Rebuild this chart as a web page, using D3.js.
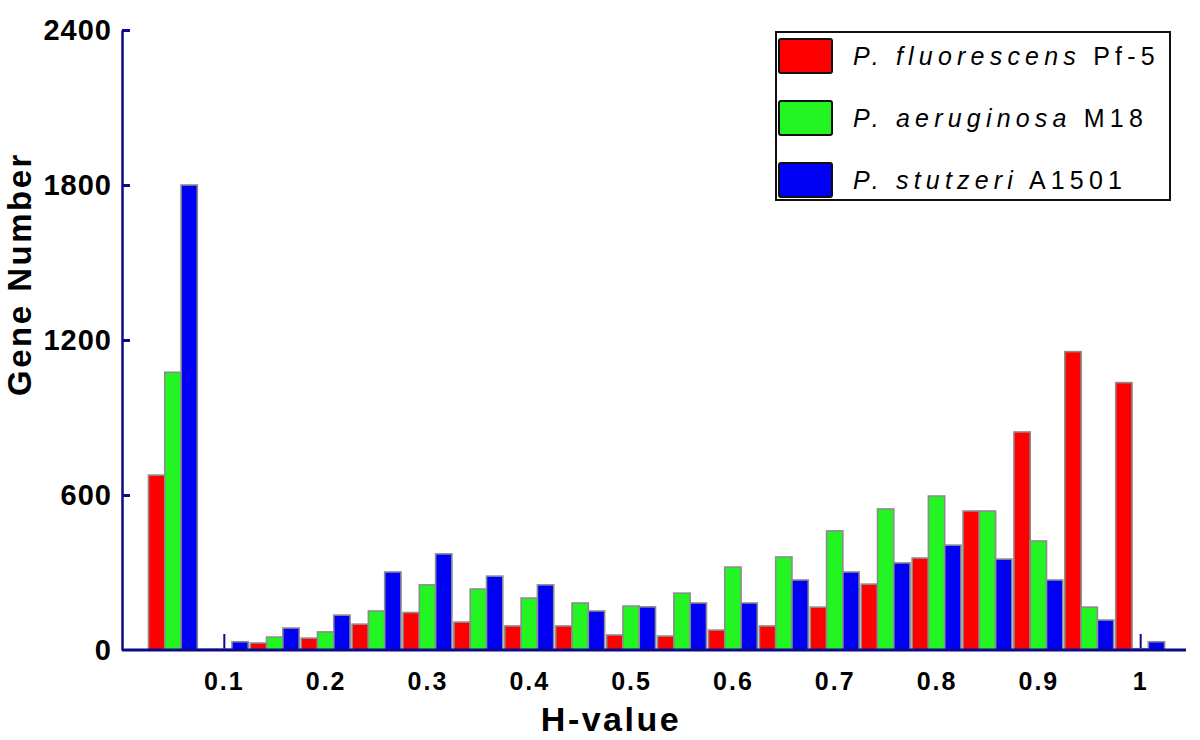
<!DOCTYPE html>
<html>
<head>
<meta charset="utf-8">
<script src="https://cdn.jsdelivr.net/npm/d3@7"></script>
<style>
  body { margin: 0; background: #fff; }
  text { font-family: "Liberation Sans", Arial, sans-serif; }
</style>
</head>
<body>
<div class="holder"></div>
<script>
const wd = 1200
const ht = 740

// bin centres (H-value) and gene counts per genome
const bins = [0.05, 0.1, 0.15, 0.2, 0.25, 0.3, 0.35, 0.4, 0.45, 0.5, 0.55, 0.6, 0.65, 0.7, 0.75, 0.8, 0.85, 0.9, 0.95, 1.0]
const pfluor = [677, 3, 27, 46, 100, 145, 108, 93, 93, 58, 54, 77, 93, 166, 255, 356, 538, 844, 1155, 1035]
const paer = [1075, 3, 50, 70, 151, 252, 236, 201, 182, 170, 220, 321, 360, 461, 546, 596, 538, 422, 166, 5]
const pstut = [1800, 32, 85, 135, 302, 372, 286, 252, 151, 167, 182, 182, 271, 302, 337, 406, 352, 271, 116, 32]

const xTicks = [0.1, 0.2, 0.3, 0.4, 0.5, 0.6, 0.7, 0.8, 0.9, 1]
const yTicks = [0, 600, 1200, 1800, 2400]

const series = [
  {name: "P. fluorescens", strain: "Pf-5", vals: pfluor, col: "#ff0000"},
  {name: "P. aeruginosa", strain: "M18", vals: paer, col: "#22f522"},
  {name: "P. stutzeri", strain: "A1501", vals: pstut, col: "#0000f5"}
]

const svg = d3.select(".holder").append("svg")
.attr("width", wd)
.attr("height", ht)

const x = d3.scaleLinear().domain([0, 1.045]).range([122, 1186])
const y = d3.scaleLinear().domain([0, 2400]).range([650, 30])

const barW = x(0.016) - x(0)
const axisCol = "#0a0a8a"

// x ticks go under the bars (only the gaps show them)
const xAxis = d3.axisBottom(x)
.tickValues(xTicks)
.tickSizeInner(-16)
.tickSizeOuter(0)
.tickPadding(22)
.tickFormat(d => d === 1 ? "1" : d3.format(".1f")(d))

const gx = svg.append("g")
.attr("transform", "translate(0,650)")
.call(xAxis)
gx.select(".domain").remove()
gx.selectAll(".tick line").attr("stroke", axisCol).attr("stroke-width", 2)
gx.selectAll(".tick text")
.attr("fill", "#000")
.style("font-size", "25px")
.style("font-weight", "bold")
.style("letter-spacing", "2px")

// bars
series.forEach((s, i) => {
  svg.append("g").selectAll("rect")
  .data(s.vals)
  .enter()
  .append("rect")
  .attr("x", (d, j) => x(bins[j]) - 1.5 * barW + i * barW)
  .attr("y", d => y(d))
  .attr("width", barW)
  .attr("height", d => y(0) - y(d))
  .attr("fill", s.col)
  .attr("stroke", "#8c8c8c")
  .attr("stroke-width", 1.6)
})

// axis lines on top
svg.append("line")
.attr("x1", x(0)).attr("x2", x(1.045))
.attr("y1", y(0)).attr("y2", y(0))
.attr("stroke", axisCol).attr("stroke-width", 3)

const yAxis = d3.axisLeft(y)
.tickValues(yTicks)
.tickSizeInner(-8)
.tickSizeOuter(0)
.tickPadding(10)
.tickFormat(d3.format("d"))

const gy = svg.append("g")
.attr("transform", "translate(122,0)")
.call(yAxis)
gy.select(".domain").attr("stroke", axisCol).attr("stroke-width", 2.5)
gy.selectAll(".tick line").attr("stroke", axisCol).attr("stroke-width", 3)
gy.selectAll(".tick")
.filter(d => d === 0)
.select("line").remove()
gy.selectAll(".tick text")
.attr("fill", "#000")
.style("font-size", "29px")
.style("font-weight", "bold")
.style("letter-spacing", "1px")

// axis titles
svg.append("text")
.attr("x", 611)
.attr("y", 731)
.attr("text-anchor", "middle")
.style("font-size", "34px")
.style("font-weight", "bold")
.style("letter-spacing", "2.5px")
.text("H-value")

svg.append("text")
.attr("transform", "translate(31,274) rotate(-90)")
.attr("text-anchor", "middle")
.style("font-size", "33px")
.style("font-weight", "bold")
.style("letter-spacing", "2.5px")
.text("Gene Number")

// legend
const lg = svg.append("g").attr("transform", "translate(776,32)")
lg.append("rect")
.attr("width", 394)
.attr("height", 168)
.attr("fill", "#fff")
.attr("stroke", "#111")
.attr("stroke-width", 2)

const items = lg.selectAll(".item")
.data(series)
.enter()
.append("g")
.attr("class", "item")
.attr("transform", (d, i) => "translate(0," + (i * 62) + ")")

items.append("rect")
.attr("x", 3)
.attr("y", 7)
.attr("width", 53)
.attr("height", 34)
.attr("rx", 2)
.attr("fill", d => d.col)
.attr("stroke", "#111")
.attr("stroke-width", 2)

const lbl = items.append("text")
.attr("x", 77)
.attr("y", 33)
.style("font-size", "25px")
.style("letter-spacing", "5.2px")
lbl.append("tspan").style("font-style", "italic").text(d => d.name)
lbl.append("tspan").text(d => " " + d.strain)
</script>
</body>
</html>
